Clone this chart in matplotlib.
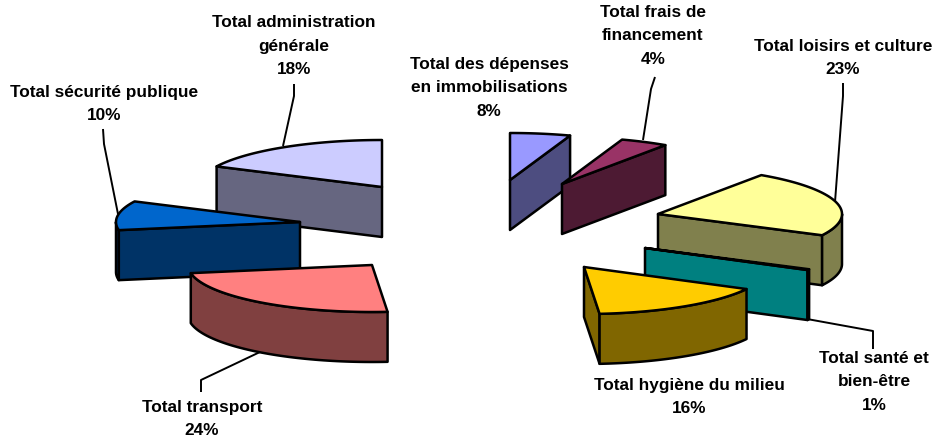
import numpy as np
import matplotlib
matplotlib.use("Agg")
import matplotlib.pyplot as plt
from matplotlib.patches import Polygon

# Data, clockwise from 12 o'clock
categories = ["Total des dépenses\nen immobilisations", "Total frais de\nfinancement",
              "Total loisirs et culture", "Total santé et\nbien-être",
              "Total hygiène du milieu", "Total transport",
              "Total sécurité publique", "Total administration\ngénérale"]
pct_labels = [8, 4, 23, 1, 16, 24, 10, 18]
wedge_shares = [5.3, 4.2, 23.0, 0.3, 15.9, 23.6, 10.0, 17.8]

# Layout / style
apex_x = [510, 562, 658, 645, 584, 372, 300, 382]
apex_y = [181, 185, 215, 249, 268, 266, 223, 188]
top_colors = ["#9999FF", "#993366", "#FFFF99", "#008080", "#FFCC00", "#FF8080", "#0066CC", "#CCCCFF"]
side_colors = ["#4D4D80", "#4D1A33", "#80804D", "#008080", "#806600", "#804040", "#003366", "#666680"]
draw_order = [0, 7, 1, 2, 3, 6, 4, 5]
label_x = [489, 653, 843, 874, 689, 202, 104, 294]
label_y = [88, 36, 58, 382, 397, 419, 104, 46]
leaders = {
    7: ([294, 294, 283], [85, 97, 147]),
    6: ([103, 104, 118], [130, 145, 215]),
    1: ([655, 651, 643], [78, 90, 141]),
    2: ([843, 843, 835], [84, 97, 203]),
    5: ([201, 201, 260], [393, 381, 353]),
    3: ([873, 873, 807], [350, 332, 320]),
}
RX, RY, DEPTH = 184, 47, 50
LW = 1.8

plt.rcParams["font.family"] = ["Liberation Sans", "DejaVu Sans"]
fig = plt.figure(figsize=(9.34, 4.39), dpi=100)
ax = fig.add_axes([0, 0, 1, 1])
ax.set_xlim(0, 934)
ax.set_ylim(439, 0)
ax.axis("off")

edges = np.radians(np.concatenate([[0], np.cumsum(wedge_shares)]) / np.sum(wedge_shares) * 360)


def arc(cx, cy, a, b, n=60):
    t = np.linspace(a, b, n)
    return np.column_stack([cx + RX * np.sin(t), cy - RY * np.cos(t)])


def face(pts, color, z):
    ax.add_patch(Polygon(pts, closed=True, facecolor=color, edgecolor="black", lw=LW,
                         joinstyle="round", zorder=z))


for z, i in enumerate(draw_order):
    z = z * 10 + 2
    cx, cy = apex_x[i], apex_y[i]
    t1, t2 = edges[i], edges[i + 1]
    apex = np.array([cx, cy])
    down = np.array([0, DEPTH])
    if t1 > np.pi:
        p = arc(cx, cy, t1, t1, 1)[0]
        face([apex, p, p + down, apex + down], side_colors[i], z)
    if t2 < np.pi:
        p = arc(cx, cy, t2, t2, 1)[0]
        face([apex, p, p + down, apex + down], side_colors[i], z)
    a, b = max(t1, np.pi / 2), min(t2, 3 * np.pi / 2)
    if b > a:
        rim = arc(cx, cy, a, b)
        face(np.vstack([rim, (rim + down)[::-1]]), side_colors[i], z + 1)
    face(np.vstack([apex, arc(cx, cy, t1, t2)]), top_colors[i], z + 2)

for i, (xs, ys) in leaders.items():
    ax.plot(xs, ys, color="black", lw=1.4, zorder=1, solid_capstyle="butt")

for i, name in enumerate(categories):
    ax.text(label_x[i], label_y[i], f"{name}\n{pct_labels[i]}%", ha="center", va="center",
            fontsize=12.4, fontweight="bold", color="black", linespacing=1.68, zorder=200)

fig.savefig("out.png", dpi=100, facecolor="white")
